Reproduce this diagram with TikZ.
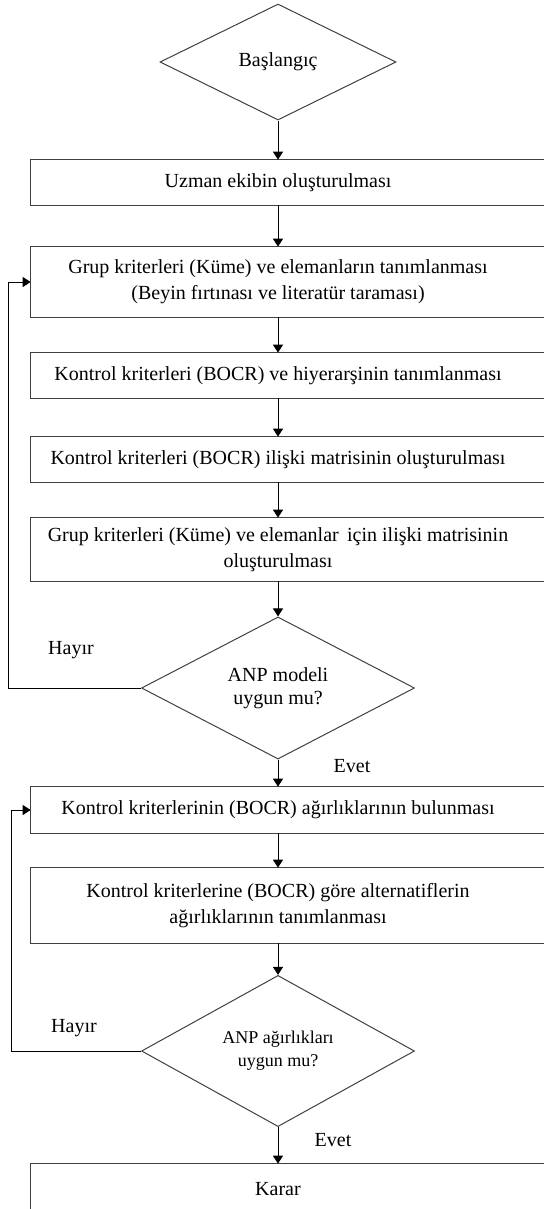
\documentclass[tikz,border=0pt]{standalone}
\usepackage{fontspec}
\setmainfont{Liberation Serif}
\usetikzlibrary{arrows.meta, shapes.geometric}

\newdimen\px \px=0.6pt

\tikzset{
  stepbox/.style={minimum width=494\px, inner sep=0pt, align=center,
    font=\fontsize{12}{15.5}\selectfont},
  frame/.style={draw=black!75, line width=1\px},
  decision/.style={diamond, draw=black!75, line width=1\px, inner sep=0pt,
    align=center, font=\fontsize{12}{14}\selectfont},
  flow/.style={-{Triangle[length=4.8pt, width=6pt]}, line width=1\px},
  answer/.style={font=\fontsize{12}{14}\selectfont},
}

\begin{document}
\begin{tikzpicture}[x=0.6pt, y=-0.6pt]
    \useasboundingbox (0,0) rectangle (544,1209);
    \clip (0,0) rectangle (544,1209);

    \node[decision, minimum width=236\px, minimum height=116\px] (start) at (278,62) {Başlangıç};
    \node[stepbox, minimum height=45\px] (team) at (278,182.5) {Uzman ekibin oluşturulması};
    \node[stepbox, minimum height=70\px] (cluster) at (278,282) {Grup kriterleri (Küme) ve elemanların tanımlanması\\(Beyin fırtınası ve literatür taraması)};
    \node[stepbox, minimum height=45\px] (hier) at (278,375.5) {Kontrol kriterleri (BOCR) ve hiyerarşinin tanımlanması};
    \node[stepbox, minimum height=45\px] (bocrmat) at (278,459.5) {Kontrol kriterleri (BOCR) ilişki matrisinin oluşturulması};
    \node[stepbox, minimum height=63\px] (clustmat) at (278,549.5) {Grup kriterleri (Küme) ve elemanlar \,için ilişki matrisinin\\oluşturulması};
    \node[decision, minimum width=273\px, minimum height=139\px] (model) at (278,688) {ANP modeli\\uygun mu?};
    \node[stepbox, minimum height=46\px] (weights) at (278,810) {Kontrol kriterlerinin (BOCR) ağırlıklarının bulunması};
    \node[stepbox, minimum height=75\px] (alts) at (278,905.5) {Kontrol kriterlerine (BOCR) göre alternatiflerin\\ağırlıklarının tanımlanması};
    \node[decision, minimum width=273\px, minimum height=140\px,
      font=\fontsize{10.8}{14}\selectfont] (check) at (278,1051) {ANP ağırlıkları\\uygun mu?};
    \node[stepbox, minimum height=50\px] (decide) at (278,1189) {Karar};

    % boxes run off the right edge
    \foreach \b in {team, cluster, hier, bocrmat, clustmat, weights, alts, decide}
        \draw[frame] (\b.north west) rectangle ([xshift=40\px]\b.south east);

    \draw[flow] (start.south) -- (team.north);
    \draw[flow] (team.south) -- (cluster.north);
    \draw[flow] (cluster.south) -- (hier.north);
    \draw[flow] (hier.south) -- (bocrmat.north);
    \draw[flow] (bocrmat.south) -- (clustmat.north);
    \draw[flow] (clustmat.south) -- (model.north);
    \draw[flow] (model.south) -- (weights.north);
    \draw[flow] (weights.south) -- (alts.north);
    \draw[flow] (alts.south) -- (check.north);
    \draw[flow] (check.south) -- (decide.north);

    % loops back
    \coordinate (back1) at (8,688);
    \coordinate (back2) at (11,1051);
    \draw[flow] (model.west) -- (back1) |- (cluster.west);
    \draw[flow] (check.west) -- (back2) |- (weights.west);

    \node[answer] (no1) at (71,650) {Hayır};
    \node[answer] (yes1) at (352,766) {Evet};
    \node[answer] (no2) at (74,1028) {Hayır};
    \node[answer] (yes2) at (333,1140) {Evet};
\end{tikzpicture}
\end{document}
